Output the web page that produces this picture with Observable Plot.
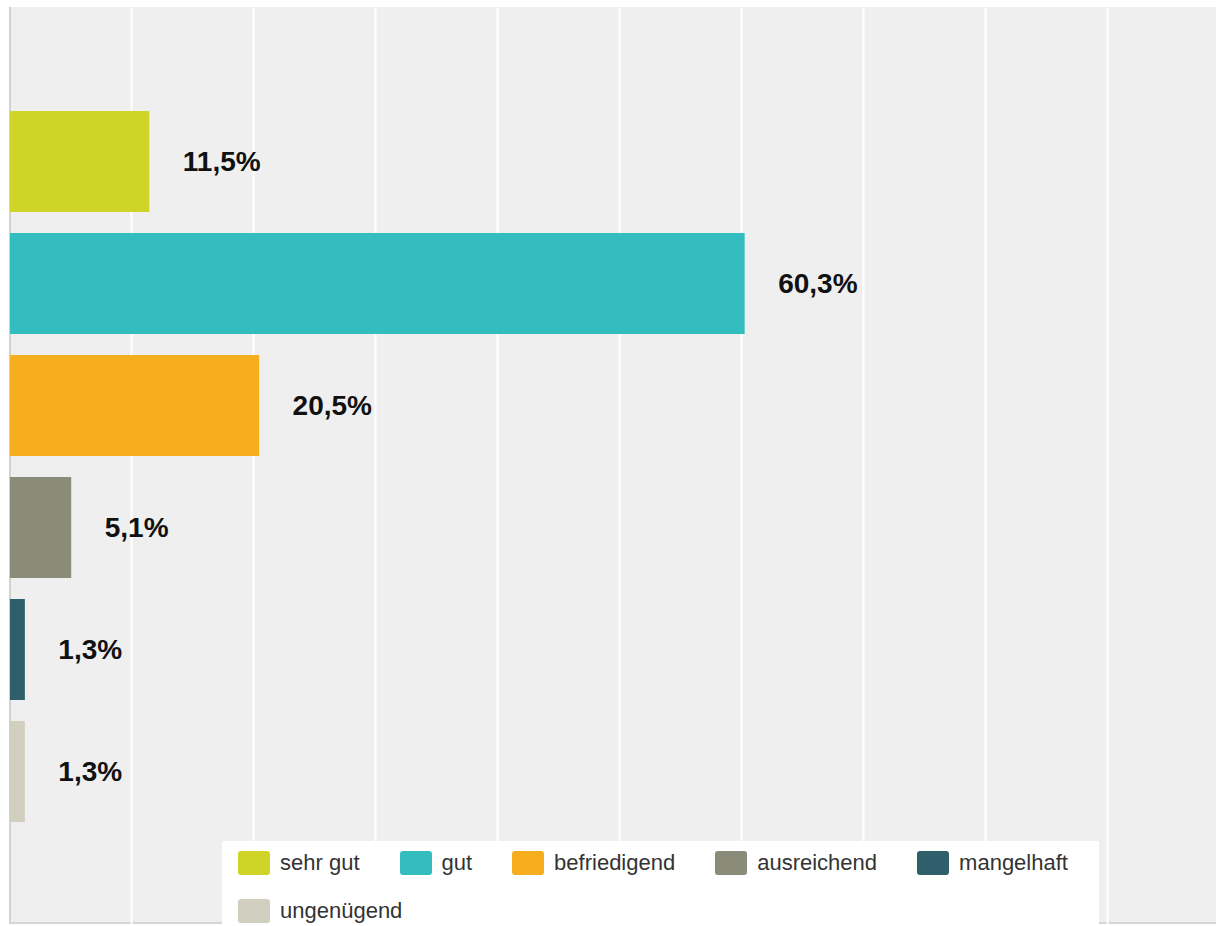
<!DOCTYPE html>
<html>
<head>
<meta charset="utf-8">
<script src="https://cdn.jsdelivr.net/npm/d3@7"></script>
<script src="https://cdn.jsdelivr.net/npm/@observablehq/plot@0.6"></script>
<style>
  html, body { margin: 0; padding: 0; background: #ffffff; }
  #wrap { position: relative; width: 1216px; height: 926px; overflow: hidden; background: #ffffff; font-family: "Liberation Sans", Arial, sans-serif; }
  #panel { position: absolute; left: 9px; top: 7px; width: 1207px; height: 917px; background: #efefef; border-left: 2px solid #d2d2d2; border-bottom: 2px solid #d6d6d6; box-sizing: border-box; }
  #chart { position: absolute; left: 0; top: 0; }
  #legend { position: absolute; left: 222px; top: 841px; width: 877px; height: 85px; background: #ffffff; box-sizing: border-box; padding: 10px 16px 0 16px; display: flex; flex-wrap: wrap; column-gap: 40px; row-gap: 24px; align-content: flex-start; }
  .item { display: flex; align-items: center; height: 24px; font-size: 22px; color: #333333; white-space: nowrap; }
  .sw { width: 32px; height: 24px; border-radius: 3px; margin-right: 10px; }
</style>
</head>
<body>
<div id="wrap">
  <div id="panel"></div>
  <div id="chart"></div>
  <div id="legend"></div>
</div>
<script>
const categories = ["sehr gut", "gut", "befriedigend", "ausreichend", "mangelhaft", "ungenügend"];
const values = [11.5, 60.3, 20.5, 5.1, 1.3, 1.3];
const colors = ["#cfd427", "#33bdbf", "#f7ae1e", "#8a8b79", "#2e5f6b", "#d0cfc0"];
const gridTicks = [10, 20, 30, 40, 50, 60, 70, 80, 90];

const data = categories.map((c, i) => ({
  category: c,
  value: values[i],
  label: d3.format(".1f")(values[i]).replace(".", ",") + "%"
}));

const chart = Plot.plot({
  width: 1216,
  height: 926,
  marginLeft: 10,
  marginRight: 0,
  marginTop: 8,
  marginBottom: 2,
  style: { background: "transparent", fontFamily: "'Liberation Sans', Arial, sans-serif", overflow: "hidden" },
  x: { domain: [0, 100], range: [9, 1229], axis: null },
  y: { domain: categories, padding: 0.175, insetTop: 81, insetBottom: 80, axis: null },
  color: { domain: categories, range: colors },
  marks: [
    Plot.ruleX(gridTicks, { stroke: "#ffffff", strokeWidth: 2 }),
    Plot.barX(data, { x: "value", y: "category", fill: "category", insetLeft: 1 }),
    Plot.text(data, {
      x: "value", y: "category", text: "label",
      dx: 33, textAnchor: "start",
      fontSize: 28, fontWeight: "bold", fill: "#111111"
    })
  ]
});
document.getElementById("chart").appendChild(chart);

const legend = document.getElementById("legend");
categories.forEach((c, i) => {
  const item = document.createElement("div");
  item.className = "item";
  const sw = document.createElement("div");
  sw.className = "sw";
  sw.style.background = colors[i];
  const t = document.createElement("span");
  t.textContent = c;
  item.appendChild(sw);
  item.appendChild(t);
  legend.appendChild(item);
});
</script>
</body>
</html>
